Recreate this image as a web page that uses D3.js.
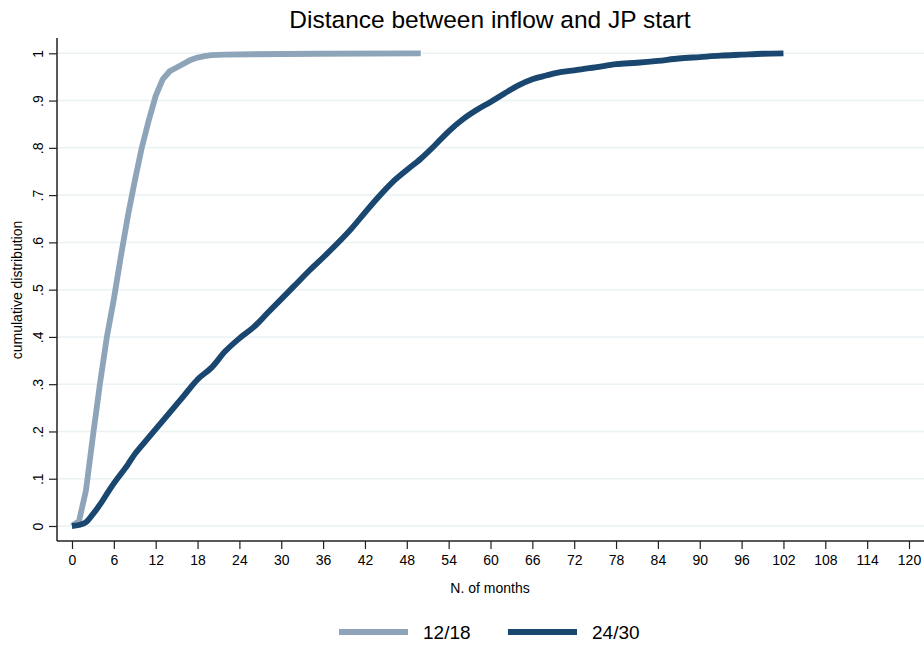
<!DOCTYPE html>
<html>
<head>
<meta charset="utf-8">
<script src="https://cdn.jsdelivr.net/npm/d3@7"></script>
<style>
  body { margin: 0; background: #fff; }
  svg { display: block; font-family: "Liberation Sans", Arial, sans-serif; }
</style>
</head>
<body>
<div id="chart"></div>
<script>
// series: months since inflow -> cumulative share
const months1218 = [0, 1, 2, 3, 4, 5, 6, 7, 8, 9, 10, 11, 12, 13, 14, 15, 16, 17, 18, 19, 20, 22, 26, 35, 50];
const cdf1218    = [0, 0.01, 0.075, 0.19, 0.30, 0.40, 0.48, 0.57, 0.655, 0.73, 0.80, 0.858, 0.91, 0.945, 0.962, 0.970, 0.978, 0.986, 0.991, 0.994, 0.996, 0.997, 0.998, 0.999, 1];

const months2430 = [0, 1, 2, 3, 4, 5, 6, 8, 9, 10, 12, 14, 16, 18, 20, 22, 24, 26, 28, 30, 32, 34, 36, 38, 40, 42, 44, 46, 48, 50, 52, 54, 56, 58, 60, 62, 64, 66, 68, 70, 72, 75, 78, 81, 84, 87, 90, 93, 96, 99, 102];
const cdf2430    = [0, 0.002, 0.008, 0.025, 0.045, 0.068, 0.09, 0.13, 0.152, 0.17, 0.205, 0.24, 0.275, 0.31, 0.335, 0.37, 0.397, 0.42, 0.45, 0.48, 0.51, 0.54, 0.568, 0.597, 0.628, 0.663, 0.697, 0.728, 0.753, 0.777, 0.805, 0.835, 0.86, 0.88, 0.897, 0.915, 0.932, 0.945, 0.953, 0.96, 0.964, 0.97, 0.977, 0.98, 0.984, 0.989, 0.992, 0.995, 0.997, 0.999, 1];

const seriesNames = ["12/18", "24/30"];
const seriesColors = ["#8da4b9", "#1a476f"];
const xTicks = d3.range(0, 121, 6);
const yTicks = [0, 0.1, 0.2, 0.3, 0.4, 0.5, 0.6, 0.7, 0.8, 0.9, 1];

const width = 924, height = 645;

const svg = d3.select("#chart").append("svg")
    .attr("width", width)
    .attr("height", height);

//scales
const x = d3.scaleLinear().domain([0, 120]).range([72, 909]);
const y = d3.scaleLinear().domain([0, 1]).range([526, 53.3]);
const plotLeft = 57, plotRight = width, plotTop = 38, plotBottom = 541;

//title
svg.append("text")
    .attr("x", 490).attr("y", 28)
    .attr("text-anchor", "middle")
    .attr("font-size", 24.5)
    .attr("fill", "#000")
    .text("Distance between inflow and JP start");

//grid lines
svg.append("g").selectAll("line")
    .data(yTicks)
    .join("line")
    .attr("x1", plotLeft).attr("x2", plotRight)
    .attr("y1", d => y(d)).attr("y2", d => y(d))
    .attr("stroke", "#eaf2f3")
    .attr("stroke-width", 1.5);

//x axis
const xAxis = svg.append("g")
    .attr("transform", `translate(0,${plotBottom})`)
    .call(d3.axisBottom(x).tickValues(xTicks).tickSize(8).tickPadding(6).tickFormat(d3.format("d")));
xAxis.select(".domain").remove();
xAxis.selectAll(".tick line").attr("stroke", "#222").attr("stroke-width", 1.2);
xAxis.selectAll(".tick text").attr("font-size", 14).attr("fill", "#000").attr("font-family", "Liberation Sans, Arial, sans-serif");

//y axis
const yFmt = d => d === 0 ? "0" : d === 1 ? "1" : d3.format(".1f")(d).replace(/^0/, "");
const yAxis = svg.append("g")
    .attr("transform", `translate(${plotLeft},0)`)
    .call(d3.axisLeft(y).tickValues(yTicks).tickSize(8).tickFormat(yFmt));
yAxis.select(".domain").remove();
yAxis.selectAll(".tick line").attr("stroke", "#222").attr("stroke-width", 1.2);
yAxis.selectAll(".tick text")
    .attr("font-size", 14).attr("fill", "#000")
    .attr("font-family", "Liberation Sans, Arial, sans-serif")
    .attr("x", null)
    .attr("text-anchor", "middle")
    .attr("transform", "translate(-19,0) rotate(-90)")
    .attr("dy", "0.35em");

//axis lines
svg.append("line")
    .attr("x1", plotLeft).attr("x2", plotRight)
    .attr("y1", plotBottom).attr("y2", plotBottom)
    .attr("stroke", "#222").attr("stroke-width", 1.5);
svg.append("line")
    .attr("x1", plotLeft).attr("x2", plotLeft)
    .attr("y1", plotTop).attr("y2", plotBottom)
    .attr("stroke", "#222").attr("stroke-width", 1.5);

//axis titles
svg.append("text")
    .attr("x", 490).attr("y", 593)
    .attr("text-anchor", "middle")
    .attr("font-size", 14)
    .text("N. of months");
svg.append("text")
    .attr("transform", "translate(22,290) rotate(-90)")
    .attr("text-anchor", "middle")
    .attr("font-size", 14)
    .text("cumulative distribution");

//lines
const series = [
    { name: seriesNames[0], color: seriesColors[0], pts: months1218.map((m, i) => [m, cdf1218[i]]), curve: d3.curveLinear },
    { name: seriesNames[1], color: seriesColors[1], pts: months2430.map((m, i) => [m, cdf2430[i]]), curve: d3.curveMonotoneX }
];

series.forEach(s => {
    const line = d3.line().x(d => x(d[0])).y(d => y(d[1])).curve(s.curve);
    svg.append("path")
        .datum(s.pts)
        .attr("d", line)
        .attr("fill", "none")
        .attr("stroke", s.color)
        .attr("stroke-width", 5.8)
        .attr("stroke-linejoin", "round");
});

//legend
const legendX = [339, 508];
series.forEach((s, i) => {
    const g = svg.append("g").attr("transform", `translate(${legendX[i]},632)`);
    g.append("line")
        .attr("x1", 0).attr("x2", 69)
        .attr("stroke", s.color).attr("stroke-width", 6);
    g.append("text")
        .attr("x", 84).attr("y", 7)
        .attr("font-size", 19)
        .text(s.name);
});
</script>
</body>
</html>
